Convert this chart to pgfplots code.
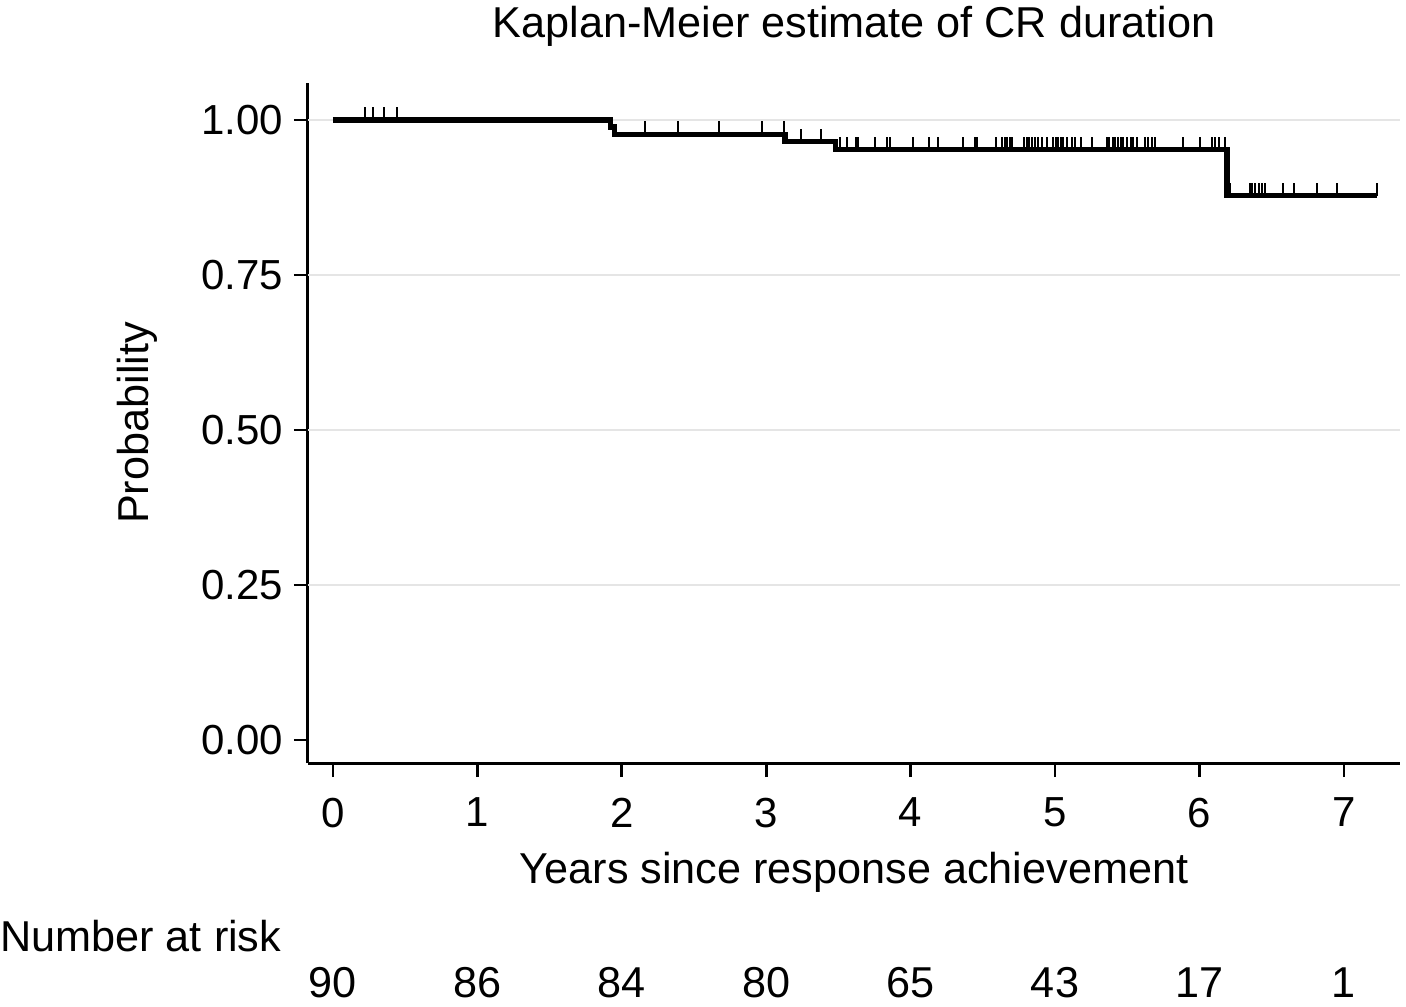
\documentclass[border=0pt]{standalone}
\usepackage{fontspec}
\setmainfont{Liberation Sans}
\usepackage{pgfplots}
\pgfplotsset{compat=1.18}
\usepackage{pgfplotstable}

% KM curve: step values (const plot, value holds until next x)
\pgfplotstableread{
t s
0     1.000
1.92  0.989
1.95  0.977
3.13  0.965
3.48  0.952
6.19  0.878
7.23  0.878
}\kmcurve

% censored observations: time and survival level at that time
\pgfplotstableread{
t s
0.220 1.000
0.275 1.000
0.353 1.000
0.441 1.000
2.160 0.977
2.390 0.977
2.670 0.977
2.970 0.977
3.125 0.977
3.240 0.965
3.380 0.965
3.511 0.952
3.562 0.952
3.622 0.952
3.638 0.952
3.753 0.952
3.834 0.952
3.857 0.952
4.014 0.952
4.130 0.952
4.192 0.952
4.365 0.952
4.446 0.952
4.458 0.952
4.591 0.952
4.631 0.952
4.654 0.952
4.670 0.952
4.688 0.952
4.704 0.952
4.785 0.952
4.804 0.952
4.822 0.952
4.839 0.952
4.862 0.952
4.884 0.952
4.908 0.952
4.943 0.952
4.988 0.952
5.007 0.952
5.023 0.952
5.040 0.952
5.058 0.952
5.081 0.952
5.116 0.952
5.139 0.952
5.178 0.952
5.254 0.952
5.358 0.952
5.376 0.952
5.400 0.952
5.416 0.952
5.438 0.952
5.455 0.952
5.473 0.952
5.501 0.952
5.525 0.952
5.543 0.952
5.566 0.952
5.623 0.952
5.646 0.952
5.670 0.952
5.693 0.952
5.889 0.952
6.004 0.952
6.085 0.952
6.108 0.952
6.138 0.952
6.177 0.952
6.212 0.878
6.350 0.878
6.367 0.878
6.385 0.878
6.415 0.878
6.431 0.878
6.454 0.878
6.577 0.878
6.655 0.878
6.812 0.878
6.951 0.878
7.228 0.878
}\censored

\begin{document}
\begin{tikzpicture}[font=\fontsize{21.6}{26}\selectfont]
\begin{axis}[
  name=ax,
  scale only axis,
  width=546pt, height=340pt,
  xmin=-0.173, xmax=7.389,
  ymin=-0.0371, ymax=1.0597,
  axis lines=left,
  axis line style={-, line width=1.5pt},
  clip=false,
  tick align=outside,
  major tick length=7pt,
  tick style={line width=1.3pt, black},
  xtick={0,1,...,7},
  ytick={0,0.25,0.5,0.75,1},
  extra y ticks={0.25,0.5,0.75,1},
  extra y tick labels={},
  extra y tick style={grid=major, major tick length=0pt},
  major grid style={line width=1pt, black!10},
  /pgf/number format/assume math mode=true,
  yticklabel style={xshift=-2pt, /pgf/number format/.cd, fixed, fixed zerofill, precision=2},
  xticklabel style={yshift=-7pt},
  tick label style={font=\fontsize{21}{25}\selectfont},
  title={Kaplan-Meier estimate of CR duration},
  title style={at={(axis description cs:0.5,1)}, anchor=base, yshift=16.5pt, inner sep=0pt},
  xlabel={Years since response achievement},
  xlabel style={at={(axis description cs:0.5,0)}, anchor=base, yshift=-60pt, inner sep=0pt},
  ylabel={Probability},
  ylabel style={at={(axis description cs:-0.1465,0.5)}, anchor=base, inner sep=0pt},
]
\addplot[const plot, line width=2.7pt, black] table[x=t, y=s] {\kmcurve};
\addplot[draw=none, mark=none,
  error bars/.cd, y dir=plus, y fixed=0.021, error mark=none,
  error bar style={draw=black, line width=1pt}] table[x=t, y=s] {\censored};
\node[anchor=base west, inner sep=0pt] at (axis cs:-2.306,-0.3415) {Number at risk};
\node[anchor=base, inner sep=0pt] at (axis cs:0,-0.416) {90};
\node[anchor=base, inner sep=0pt] at (axis cs:1,-0.416) {86};
\node[anchor=base, inner sep=0pt] at (axis cs:2,-0.416) {84};
\node[anchor=base, inner sep=0pt] at (axis cs:3,-0.416) {80};
\node[anchor=base, inner sep=0pt] at (axis cs:4,-0.416) {65};
\node[anchor=base, inner sep=0pt] at (axis cs:5,-0.416) {43};
\node[anchor=base, inner sep=0pt] at (axis cs:6,-0.416) {17};
\node[anchor=base, inner sep=0pt] at (axis cs:7,-0.416) {1};
\end{axis}
\pgfresetboundingbox
\path[use as bounding box] (-154pt,-121.5pt) rectangle (549pt,381.5pt);
\end{tikzpicture}
\end{document}
